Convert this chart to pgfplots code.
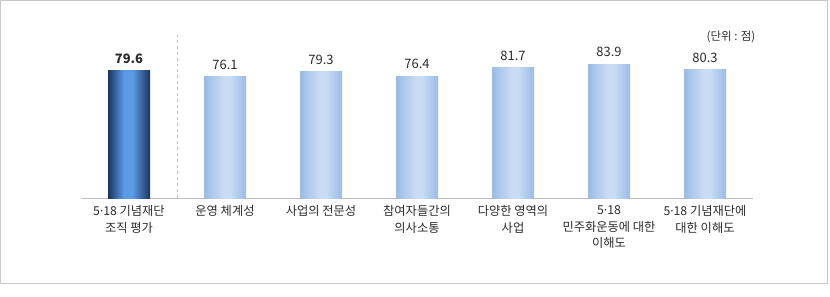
\documentclass[border=0pt]{standalone}
\usepackage{pgfplots}
\pgfplotsset{compat=1.18}
\usepackage{fontspec}
\setmainfont{Noto Sans CJK KR}
\newfontfamily\latin{Noto Sans}
\newcommand{\md}{{\latin ·}}
\definecolor{txt}{HTML}{2B2B2B}
\definecolor{axgray}{HTML}{BFBFBF}
\definecolor{framegray}{HTML}{C8C8C8}
\definecolor{dkedge}{HTML}{1A3560}
\definecolor{dkmid}{HTML}{5B9BE6}
\definecolor{ltedge}{HTML}{9BBCE6}
\definecolor{ltmid}{HTML}{C8DCF4}
\pgfdeclarehorizontalshading{darkbar}{100bp}{color(0bp)=(dkedge); color(25bp)=(dkedge); color(44bp)=(dkmid); color(54bp)=(dkmid); color(75bp)=(dkedge); color(100bp)=(dkedge)}
\pgfdeclarehorizontalshading{lightbar}{100bp}{color(0bp)=(ltedge); color(25bp)=(ltedge); color(48bp)=(ltmid); color(56bp)=(ltmid); color(75bp)=(ltedge); color(100bp)=(ltedge)}
\begin{document}
\begin{tikzpicture}[x=1bp,y=1bp]
\useasboundingbox (-81,-98) rectangle (749,198);
\draw[framegray, line width=1bp] (-80.5,197.5) rectangle (746.5,-85.5);
\begin{axis}[
  at={(0,0)}, anchor=south west,
  scale only axis,
  width=672bp, height=162.8bp,
  xmin=-0.5, xmax=6.5, ymin=0, ymax=102,
  axis x line*=bottom, axis y line=none,
  x axis line style={axgray, line width=0.8bp, -},
  xtick={0,1,2,3,4,5,6},
  major x tick style={draw=none},
  extra x ticks={-0.5,0.5,1.5,2.5,3.5,4.5,5.5,6.5},
  extra x tick labels={},
  extra x tick style={tick style={axgray, line width=0.8bp}, major tick length=4bp, tick align=outside},
  xticklabels={{5\md18 기념재단\\조직 평가},{운영 체계성},{사업의 전문성},{참여자들간의\\의사소통},{다양한 영역의\\사업},{5\md18\\민주화운동에 대한\\이해도},{5\md18 기념재단에\\대한 이해도}},
  xticklabel style={font=\fontsize{12.3}{17}\selectfont, text=txt, align=center, anchor=north, inner sep=0pt, yshift=-7bp},
  /pgf/number format/fixed, /pgf/number format/zerofill, /pgf/number format/precision=1,
  /pgf/number format/assume math mode=true,
  clip=false,
]
% plain bars with value labels
\addplot[ybar, bar width=42bp, bar shift=0pt, fill=dkmid, draw=none, nodes near coords,
  nodes near coords style={font=\fontsize{13}{15}\selectfont\bfseries, text=txt, anchor=south, inner sep=0pt, yshift=7bp}]
  coordinates {(0,79.6)};
\addplot[ybar, bar width=42bp, bar shift=0pt, fill=ltmid, draw=none, nodes near coords,
  nodes near coords style={font=\fontsize{13}{15}\selectfont, text=txt, anchor=south, inner sep=0pt, yshift=7bp}]
  coordinates {(1,76.1) (2,79.3) (3,76.4) (4,81.7) (5,83.9) (6,80.3)};
% shaded bar bodies (same values, bar edges at x +- 0.21875)
\addplot[draw=none, shading=darkbar] coordinates {(-0.21875,0) (-0.21875,79.6) (0.21875,79.6) (0.21875,0)} -- cycle;
\addplot[draw=none, shading=lightbar] coordinates {(0.78125,0) (0.78125,76.1) (1.21875,76.1) (1.21875,0)} -- cycle;
\addplot[draw=none, shading=lightbar] coordinates {(1.78125,0) (1.78125,79.3) (2.21875,79.3) (2.21875,0)} -- cycle;
\addplot[draw=none, shading=lightbar] coordinates {(2.78125,0) (2.78125,76.4) (3.21875,76.4) (3.21875,0)} -- cycle;
\addplot[draw=none, shading=lightbar] coordinates {(3.78125,0) (3.78125,81.7) (4.21875,81.7) (4.21875,0)} -- cycle;
\addplot[draw=none, shading=lightbar] coordinates {(4.78125,0) (4.78125,83.9) (5.21875,83.9) (5.21875,0)} -- cycle;
\addplot[draw=none, shading=lightbar] coordinates {(5.78125,0) (5.78125,80.3) (6.21875,80.3) (6.21875,0)} -- cycle;
\draw[axgray, dashed, line width=0.8bp] (axis cs:0.5,0) -- (axis cs:0.5,102);
\end{axis}
\node[font=\fontsize{11.5}{13}\selectfont, text=txt, inner sep=0pt] at (650,161) {(단위 : 점)};
\end{tikzpicture}
\end{document}
